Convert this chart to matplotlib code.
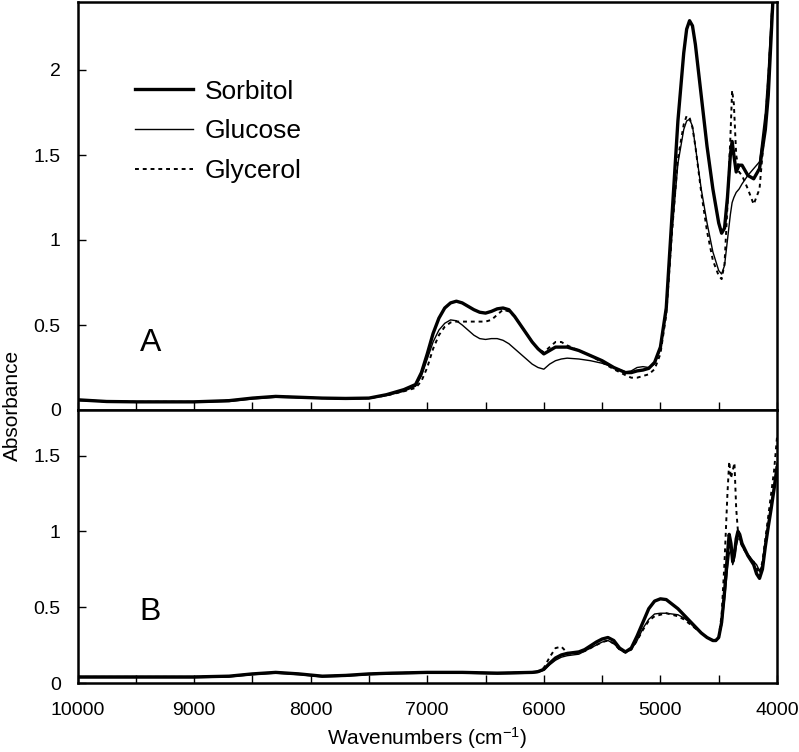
import matplotlib
matplotlib.use("Agg")
import matplotlib.pyplot as plt
from matplotlib.ticker import MultipleLocator, FuncFormatter

plt.rcParams["font.family"] = ["Liberation Sans", "DejaVu Sans"]
plt.rcParams["mathtext.fontset"] = "custom"
plt.rcParams["mathtext.rm"] = "Liberation Sans"
plt.rcParams["mathtext.default"] = "regular"

# --- panel A data (absorbance vs wavenumber) ---
wn_a = [10000, 9750, 9500, 9000, 8700, 8500, 8300, 8100, 7900, 7700, 7500, 7350,
        7200, 7100, 7050, 7000, 6950, 6900, 6850, 6800, 6750, 6700, 6650, 6600,
        6550, 6500, 6450, 6400, 6350, 6300, 6250, 6200, 6150, 6100, 6050, 6000,
        5950, 5900, 5850, 5800, 5700, 5600, 5500, 5400, 5300, 5250, 5200, 5150,
        5100, 5050, 5000, 4950, 4900, 4850, 4800, 4775, 4750, 4725, 4700, 4650,
        4600, 4550, 4500, 4475, 4450, 4425, 4400, 4385, 4370, 4350, 4325, 4300,
        4250, 4200, 4150, 4100, 4075, 4050, 4025, 4000]
sorbitol_a = [0.06, 0.05, 0.048, 0.048, 0.055, 0.07, 0.08, 0.075, 0.07, 0.068, 0.07, 0.09,
              0.12, 0.15, 0.22, 0.33, 0.45, 0.54, 0.60, 0.63, 0.64, 0.63, 0.61, 0.59,
              0.575, 0.57, 0.58, 0.595, 0.60, 0.59, 0.55, 0.50, 0.45, 0.40, 0.36, 0.33,
              0.35, 0.37, 0.37, 0.37, 0.35, 0.32, 0.29, 0.25, 0.22, 0.22, 0.23, 0.235,
              0.245, 0.28, 0.37, 0.60, 1.15, 1.70, 2.10, 2.24, 2.29, 2.26, 2.15, 1.85,
              1.55, 1.30, 1.10, 1.04, 1.07, 1.25, 1.50, 1.58, 1.50, 1.40, 1.44, 1.44,
              1.38, 1.36, 1.42, 1.65, 1.85, 2.20, 2.55, 2.90]
glucose_a = [0.055, 0.05, 0.045, 0.045, 0.05, 0.065, 0.075, 0.072, 0.068, 0.065, 0.068, 0.085,
             0.11, 0.14, 0.20, 0.30, 0.40, 0.47, 0.51, 0.53, 0.525, 0.50, 0.47, 0.44,
             0.42, 0.415, 0.42, 0.42, 0.41, 0.39, 0.36, 0.33, 0.30, 0.27, 0.25, 0.24,
             0.27, 0.29, 0.30, 0.305, 0.30, 0.29, 0.275, 0.25, 0.225, 0.23, 0.25, 0.255,
             0.25, 0.27, 0.36, 0.58, 1.05, 1.45, 1.65, 1.70, 1.71, 1.67, 1.55, 1.30,
             1.10, 0.93, 0.82, 0.80, 0.85, 1.00, 1.15, 1.22, 1.25, 1.28, 1.30, 1.33,
             1.38, 1.42, 1.46, 1.75, 2.00, 2.30, 2.60, 2.95]
glycerol_a = [0.06, 0.05, 0.048, 0.048, 0.055, 0.07, 0.08, 0.075, 0.07, 0.068, 0.07, 0.085,
              0.11, 0.13, 0.17, 0.25, 0.36, 0.44, 0.49, 0.515, 0.52, 0.52, 0.52, 0.52,
              0.52, 0.52, 0.53, 0.56, 0.59, 0.58, 0.55, 0.50, 0.45, 0.40, 0.36, 0.34,
              0.37, 0.40, 0.40, 0.38, 0.35, 0.32, 0.28, 0.24, 0.205, 0.19, 0.19, 0.20,
              0.21, 0.24, 0.33, 0.56, 1.05, 1.48, 1.68, 1.73, 1.72, 1.66, 1.55, 1.28,
              1.05, 0.88, 0.79, 0.77, 0.86, 1.20, 1.60, 1.88, 1.80, 1.50, 1.40, 1.38,
              1.30, 1.21, 1.30, 1.70, 1.95, 2.25, 2.60, 2.95]

# --- panel B data ---
wn_b = [10000, 9500, 9000, 8700, 8500, 8300, 8100, 7900, 7700, 7500, 7300, 7000,
        6700, 6400, 6100, 6050, 6000, 5950, 5900, 5850, 5800, 5750, 5700, 5650,
        5600, 5550, 5500, 5450, 5400, 5350, 5300, 5250, 5200, 5150, 5100, 5050,
        5000, 4950, 4900, 4850, 4800, 4750, 4700, 4650, 4600, 4550, 4525, 4500,
        4475, 4450, 4425, 4410, 4395, 4380, 4365, 4350, 4335, 4320, 4300, 4250,
        4200, 4175, 4150, 4125, 4100, 4075, 4050, 4025, 4000]
sorbitol_b = [0.04, 0.04, 0.04, 0.045, 0.06, 0.07, 0.06, 0.045, 0.05, 0.06, 0.065, 0.07,
              0.07, 0.065, 0.07, 0.075, 0.09, 0.13, 0.165, 0.185, 0.195, 0.20, 0.205, 0.22,
              0.245, 0.27, 0.29, 0.30, 0.28, 0.23, 0.205, 0.23, 0.31, 0.40, 0.49, 0.54,
              0.555, 0.55, 0.52, 0.49, 0.45, 0.41, 0.37, 0.33, 0.30, 0.28, 0.28, 0.30,
              0.40, 0.60, 0.85, 0.98, 0.92, 0.80, 0.85, 0.95, 1.00, 0.98, 0.92, 0.84,
              0.78, 0.72, 0.69, 0.75, 0.90, 1.03, 1.15, 1.28, 1.42]
glucose_b = [0.035, 0.035, 0.035, 0.04, 0.055, 0.065, 0.055, 0.04, 0.045, 0.055, 0.06, 0.065,
             0.065, 0.06, 0.065, 0.07, 0.085, 0.12, 0.15, 0.17, 0.18, 0.185, 0.19, 0.21,
             0.23, 0.25, 0.27, 0.28, 0.26, 0.22, 0.20, 0.22, 0.28, 0.36, 0.42, 0.455,
             0.46, 0.46, 0.455, 0.45, 0.43, 0.40, 0.36, 0.33, 0.30, 0.285, 0.285, 0.30,
             0.38, 0.55, 0.75, 0.85, 0.88, 0.78, 0.82, 0.90, 0.95, 0.95, 0.90, 0.85,
             0.80, 0.78, 0.74, 0.78, 0.92, 1.05, 1.18, 1.30, 1.45]
glycerol_b = [0.04, 0.04, 0.04, 0.045, 0.06, 0.07, 0.06, 0.045, 0.05, 0.06, 0.065, 0.07,
              0.07, 0.065, 0.07, 0.075, 0.10, 0.17, 0.23, 0.24, 0.20, 0.19, 0.20, 0.21,
              0.23, 0.25, 0.27, 0.28, 0.26, 0.22, 0.20, 0.22, 0.28, 0.35, 0.41, 0.44,
              0.45, 0.46, 0.45, 0.44, 0.42, 0.39, 0.36, 0.33, 0.30, 0.28, 0.28, 0.30,
              0.45, 0.80, 1.25, 1.46, 1.35, 1.40, 1.45, 1.15, 1.00, 0.95, 0.90, 0.84,
              0.80, 0.76, 0.72, 0.80, 0.95, 1.10, 1.25, 1.40, 1.62]

series_labels = ["Sorbitol", "Glucose", "Glycerol"]
styles = [dict(color="black", lw=2.4, ls="-"),
          dict(color="black", lw=1.0, ls="-"),
          dict(color="black", lw=1.4, ls=(0, (2, 2)))]

fig = plt.figure(figsize=(7.99, 7.52), dpi=100)
left, right = 77.5 / 799, 777 / 799
top_px, mid_px, bot_px = 2, 410, 683
ax_a = fig.add_axes([left, 1 - mid_px / 752, right - left, (mid_px - top_px) / 752])
ax_b = fig.add_axes([left, 1 - bot_px / 752, right - left, (bot_px - mid_px) / 752])

for ys, lab, st in zip([sorbitol_a, glucose_a, glycerol_a], series_labels, styles):
    ax_a.plot(wn_a, ys, label=lab, **st)
for ys, st in zip([sorbitol_b, glucose_b, glycerol_b], styles):
    ax_b.plot(wn_b, ys, **st)

fmt = FuncFormatter(lambda v, p: f"{v:g}")
for ax, ymax in [(ax_a, 2.4), (ax_b, 1.8)]:
    ax.set_xlim(10000, 4000)
    ax.set_ylim(0, ymax)
    ax.xaxis.set_major_locator(MultipleLocator(1000))
    ax.xaxis.set_minor_locator(MultipleLocator(500))
    ax.yaxis.set_major_locator(MultipleLocator(0.5))
    ax.yaxis.set_major_formatter(fmt)
    ax.tick_params(axis="both", which="both", direction="in", top=False, right=False,
                   labelsize=14, width=1, pad=12)
    ax.tick_params(axis="both", which="major", length=6)
    ax.tick_params(axis="x", which="minor", length=6)
    for s in ax.spines.values():
        s.set_linewidth(1.8)

ax_a.set_yticks([0, 0.5, 1, 1.5, 2])
ax_b.set_yticks([0, 0.5, 1, 1.5])
ax_a.tick_params(axis="x", labelbottom=False)
ax_b.tick_params(axis="x", pad=14)

fig.text(0.5 * (left + right), 1 / 752, "Wavenumbers (cm$^{-1}$)", fontsize=15,
         ha="center", va="bottom")
fig.text(12 / 799, 1 - 405 / 752, "Absorbance", rotation=90, fontsize=15,
         ha="center", va="center")

ax_a.text(0.089, 0.164, "A", transform=ax_a.transAxes, fontsize=23, va="center", ha="left")
ax_b.text(0.089, 0.26, "B", transform=ax_b.transAxes, fontsize=23, va="center", ha="left")

ax_a.legend(loc="upper left", bbox_to_anchor=(0.082, 0.81), frameon=False, fontsize=19,
            handlelength=2.2, handletextpad=0.45, labelspacing=0.6, borderpad=0,
            borderaxespad=0)

fig.savefig("out.png", dpi=100)
